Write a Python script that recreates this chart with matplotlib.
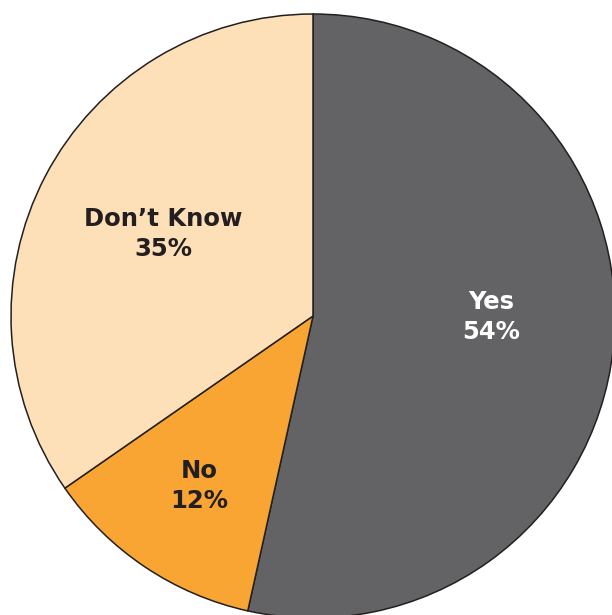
import matplotlib.pyplot as plt

labels = ["Yes", "No", "Don\u2019t Know"]
values = [54, 12, 35]
colors = ["#636365", "#f9a533", "#fddfb8"]
text_colors = ["white", "#231f20", "#231f20"]

# label anchor points (pixels from top-left)
label_pos = [(491, 317), (199, 486), (163, 234)]

W, H = 612, 615
fig = plt.figure(figsize=(W / 100, H / 100), dpi=100)
ax = fig.add_axes([0, 0, 1, 1])

ax.pie(
    values,
    colors=colors,
    startangle=90,
    counterclock=False,
    center=(313, H - 316),
    radius=302,
    wedgeprops=dict(edgecolor="#231f20", linewidth=1.1),
)

for lab, val, (px, py), tc in zip(labels, values, label_pos, text_colors):
    ax.text(px, H - py, f"{lab}\n{val}%", ha="center", va="center",
            fontsize=17.5, fontweight="heavy", color=tc,
            family="DejaVu Sans", linespacing=1.35)

ax.set_xlim(0, W)
ax.set_ylim(0, H)
ax.set_aspect("auto")
ax.axis("off")

fig.savefig("out.png", dpi=100)
